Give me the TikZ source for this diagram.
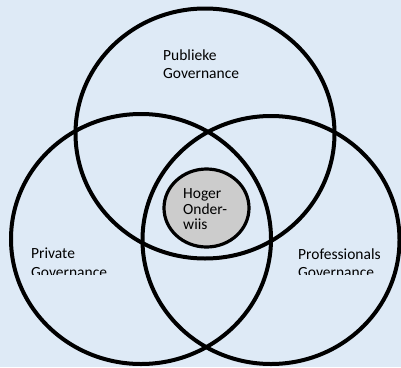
\documentclass[tikz,border=0pt]{standalone}
\usepackage{fontspec}
\setmainfont{Carlito}
\usetikzlibrary{shapes.geometric}
\definecolor{bgblue}{RGB}{222,234,246}
\definecolor{innergray}{RGB}{204,204,204}
\begin{document}
\begin{tikzpicture}[x=1pt,y=-1pt,
  ring/.style={draw=black,line width=4pt,ellipse,inner sep=0pt},
  lbl/.style={anchor=base west,inner sep=0pt,font=\fontsize{15.5}{17}\selectfont},
]
\fill[bgblue] (0,0) rectangle (401,367);
\useasboundingbox (0,0) rectangle (401,367);
\node[ring,minimum width=259pt,minimum height=250pt] (pub) at (205,133.5) {};
\node[ring,minimum width=260pt,minimum height=250pt] (priv) at (141,239) {};
\node[ring,minimum width=257pt,minimum height=248pt] (prof) at (271,240) {};
\node[ring,fill=innergray,line width=3.2pt,minimum width=85pt,minimum height=78pt] (ho) at (206.5,208) {};
\node[lbl] (pubA) at (163,60) {Publieke};
\node[lbl] (pubB) at (163,78.3) {Governance};
\node[lbl] (hoA) at (183,198.3) {Hoger};
\node[lbl] (hoB) at (183,214) {Onder-};
\node[lbl] (hoC) at (183,229.7) {wiis};
\node[lbl] (privA) at (31,258.5) {Private};
\node[lbl] (profA) at (298,259) {Professionals};
\begin{scope}
\clip (0,0) rectangle (401,274.5);
\node[lbl] (privB) at (31,277) {Governance};
\node[lbl] (profB) at (298,277.5) {Governance};
\end{scope}
\end{tikzpicture}
\end{document}
